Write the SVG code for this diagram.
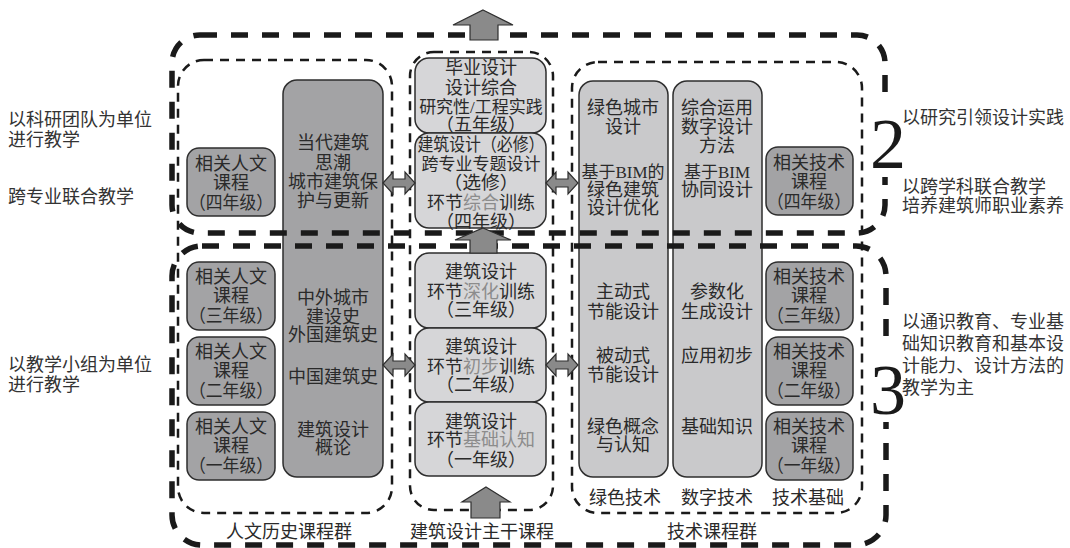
<svg xmlns="http://www.w3.org/2000/svg" width="1070" height="548" viewBox="0 0 1070 548">
<defs>
<style>
.t{font-family:"Liberation Serif","Noto Sans CJK SC",serif;font-size:18px;fill:#2a2a2a;text-anchor:middle}
.s{font-family:"Liberation Serif","Noto Sans CJK SC",serif;font-size:18px;fill:#333}
.hl{fill:#8c8c8c}
.dk{fill:#a3a3a5;stroke:#2e2e2e;stroke-width:1.5}
.lt{fill:#d6d6d8;stroke:#2e2e2e;stroke-width:1.5}
.md{fill:#c9c9cb;stroke:#2e2e2e;stroke-width:1.5}
.thin{fill:none;stroke:#1a1a1a;stroke-width:2.5;stroke-dasharray:9 7}
.thick{fill:none;stroke:#1a1a1a;stroke-width:5.5;stroke-dasharray:17 14}
.arr{fill:#8a8a8a;stroke:#2e2e2e;stroke-width:1.2}
.dig{font-family:"Liberation Serif",serif;font-size:72px;fill:#1a1a1a}
</style>
<polygon id="dbl" points="-16,0 -6,-11 -6,-4 6,-4 6,-11 16,0 6,11 6,4 -6,4 -6,11"/>
</defs>
<rect width="1070" height="548" fill="#fff"/>

<g id="groups">
<rect class="thin" x="178" y="60" width="214" height="453" rx="26"/>
<rect class="thin" x="410" y="52" width="143" height="458" rx="24"/>
<rect class="thin" x="572" y="62" width="290" height="451" rx="26"/>
</g>

<g id="n_h4"><rect class="dk" x="187" y="148" width="88" height="68" rx="12"/>
<text class="t" x="231" y="170">相关人文</text><text class="t" x="231" y="189">课程</text><text class="t" x="231" y="209" textLength="84" lengthAdjust="spacingAndGlyphs">（四年级）</text></g>
<g id="n_hist"><rect class="dk" x="283" y="80" width="100" height="397" rx="14"/>
<text class="t" x="333" y="149">当代建筑</text><text class="t" x="333" y="169">思潮</text><text class="t" x="333" y="188">城市建筑保</text><text class="t" x="333" y="207">护与更新</text>
<text class="t" x="333" y="304">中外城市</text><text class="t" x="333" y="323">建设史</text><text class="t" x="333" y="341">外国建筑史</text>
<text class="t" x="333" y="383">中国建筑史</text>
<text class="t" x="333" y="436">建筑设计</text><text class="t" x="333" y="454">概论</text></g>
<g id="n_h3"><rect class="dk" x="187" y="262" width="88" height="68" rx="12"/>
<text class="t" x="231" y="283">相关人文</text><text class="t" x="231" y="302">课程</text><text class="t" x="231" y="322" textLength="84" lengthAdjust="spacingAndGlyphs">（三年级）</text></g>
<g id="n_h2"><rect class="dk" x="187" y="337" width="88" height="68" rx="12"/>
<text class="t" x="231" y="358">相关人文</text><text class="t" x="231" y="377">课程</text><text class="t" x="231" y="397" textLength="84" lengthAdjust="spacingAndGlyphs">（二年级）</text></g>
<g id="n_h1"><rect class="dk" x="187" y="412" width="88" height="68" rx="12"/>
<text class="t" x="231" y="433">相关人文</text><text class="t" x="231" y="452">课程</text><text class="t" x="231" y="472" textLength="84" lengthAdjust="spacingAndGlyphs">（一年级）</text></g>

<g id="n_m5"><rect class="lt" x="415" y="58" width="131" height="75" rx="14"/>
<text class="t" x="481" y="74">毕业设计</text><text class="t" x="481" y="94">设计综合</text><text class="t" x="481" y="113" style="font-size:17px">研究性/工程实践</text><text class="t" x="481" y="131" textLength="90" lengthAdjust="spacingAndGlyphs">（五年级）</text></g>
<g id="n_m4"><rect class="lt" x="415" y="133" width="131" height="95" rx="14"/>
<text class="t" x="481" y="151" textLength="127" lengthAdjust="spacingAndGlyphs">建筑设计（必修）</text><text class="t" x="481" y="170" style="font-size:17px">跨专业专题设计</text><text class="t" x="481" y="189" textLength="75" lengthAdjust="spacingAndGlyphs">（选修）</text><text class="t" x="481" y="209">环节<tspan class="hl">综合</tspan>训练</text><text class="t" x="481" y="228" textLength="90" lengthAdjust="spacingAndGlyphs">（四年级）</text></g>
<g id="n_m3"><rect class="lt" x="415" y="253" width="131" height="75" rx="14"/>
<text class="t" x="481" y="278">建筑设计</text><text class="t" x="481" y="298">环节<tspan class="hl">深化</tspan>训练</text><text class="t" x="481" y="316" textLength="90" lengthAdjust="spacingAndGlyphs">（三年级）</text></g>
<g id="n_m2"><rect class="lt" x="415" y="328" width="131" height="74" rx="14"/>
<text class="t" x="481" y="353">建筑设计</text><text class="t" x="481" y="373">环节<tspan class="hl">初步</tspan>训练</text><text class="t" x="481" y="391" textLength="90" lengthAdjust="spacingAndGlyphs">（二年级）</text></g>
<g id="n_m1"><rect class="lt" x="415" y="402" width="131" height="74" rx="14"/>
<text class="t" x="481" y="428">建筑设计</text><text class="t" x="481" y="446">环节<tspan class="hl">基础认知</tspan></text><text class="t" x="481" y="466" textLength="90" lengthAdjust="spacingAndGlyphs">（一年级）</text></g>

<g id="n_green"><rect class="md" x="579" y="81" width="89" height="396" rx="14"/>
<text class="t" x="623" y="114">绿色城市</text><text class="t" x="623" y="133">设计</text>
<text class="t" x="623" y="178" style="font-size:17px">基于BIM的</text><text class="t" x="623" y="196">绿色建筑</text><text class="t" x="623" y="214">设计优化</text>
<text class="t" x="623" y="298">主动式</text><text class="t" x="623" y="318">节能设计</text>
<text class="t" x="623" y="362">被动式</text><text class="t" x="623" y="381">节能设计</text>
<text class="t" x="623" y="433">绿色概念</text><text class="t" x="623" y="451">与认知</text></g>
<g id="n_digital"><rect class="md" x="673" y="81" width="89" height="396" rx="14"/>
<text class="t" x="717" y="114">综合运用</text><text class="t" x="717" y="133">数字设计</text><text class="t" x="717" y="152">方法</text>
<text class="t" x="717" y="178" style="font-size:17px">基于BIM</text><text class="t" x="717" y="196">协同设计</text>
<text class="t" x="717" y="298">参数化</text><text class="t" x="717" y="318">生成设计</text>
<text class="t" x="717" y="362">应用初步</text>
<text class="t" x="717" y="433">基础知识</text></g>
<g id="n_t4"><rect class="dk" x="766" y="147" width="87" height="68" rx="12"/>
<text class="t" x="809" y="169">相关技术</text><text class="t" x="809" y="188">课程</text><text class="t" x="809" y="208" textLength="84" lengthAdjust="spacingAndGlyphs">（四年级）</text></g>
<g id="n_t3"><rect class="dk" x="766" y="262" width="87" height="68" rx="12"/>
<text class="t" x="809" y="283">相关技术</text><text class="t" x="809" y="302">课程</text><text class="t" x="809" y="322" textLength="84" lengthAdjust="spacingAndGlyphs">（三年级）</text></g>
<g id="n_t2"><rect class="dk" x="766" y="337" width="87" height="68" rx="12"/>
<text class="t" x="809" y="358">相关技术</text><text class="t" x="809" y="377">课程</text><text class="t" x="809" y="397" textLength="84" lengthAdjust="spacingAndGlyphs">（二年级）</text></g>
<g id="n_t1"><rect class="dk" x="766" y="412" width="87" height="68" rx="12"/>
<text class="t" x="809" y="433">相关技术</text><text class="t" x="809" y="452">课程</text><text class="t" x="809" y="472" textLength="84" lengthAdjust="spacingAndGlyphs">（一年级）</text></g>

<g id="labels">
<text class="t" x="625" y="504">绿色技术</text>
<text class="t" x="717" y="504">数字技术</text>
<text class="t" x="808" y="504">技术基础</text>
<text class="t" x="289" y="538">人文历史课程群</text>
<text class="t" x="482" y="538">建筑设计主干课程</text>
<text class="t" x="712" y="538">技术课程群</text>
</g>

<g id="levels">
<rect class="thick" x="172" y="35" width="713" height="198" rx="28"/>
<rect class="thick" x="172" y="246" width="714" height="299" rx="30"/>
</g>

<g id="connectors">
<polygon class="arr" points="483,10 513,25 498,25 498,40 470,40 470,25 453,25"/>
<polygon class="arr" points="483,228 511,240 497,240 497,253 470,253 470,240 455,240"/>
<polygon class="arr" points="486,487 510,502 500,502 500,518 471,518 471,502 462,502"/>
<use href="#dbl" class="arr" x="399" y="183"/>
<use href="#dbl" class="arr" x="562" y="183"/>
<use href="#dbl" class="arr" x="399" y="365"/>
<use href="#dbl" class="arr" x="562" y="365"/>
</g>

<g id="side">
<rect x="868" y="105" width="34" height="72" fill="#fff"/>
<rect x="868" y="350" width="34" height="72" fill="#fff"/>
<text class="dig" x="870" y="168">2</text>
<text class="dig" x="870" y="414">3</text>
<text class="s" x="8" y="126">以科研团队为单位</text>
<text class="s" x="8" y="146">进行教学</text>
<text class="s" x="8" y="203">跨专业联合教学</text>
<text class="s" x="8" y="371">以教学小组为单位</text>
<text class="s" x="8" y="391">进行教学</text>
<text class="s" x="902" y="124">以研究引领设计实践</text>
<text class="s" x="902" y="193">以跨学科联合教学</text>
<text class="s" x="902" y="212">培养建筑师职业素养</text>
<text class="s" x="902" y="328">以通识教育、专业基</text>
<text class="s" x="902" y="350">础知识教育和基本设</text>
<text class="s" x="902" y="372">计能力、设计方法的</text>
<text class="s" x="902" y="394">教学为主</text>
</g>
</svg>
